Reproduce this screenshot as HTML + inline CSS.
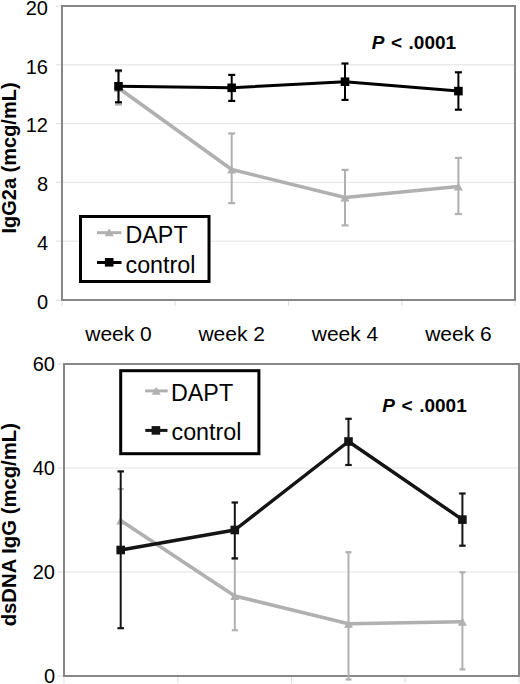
<!DOCTYPE html>
<html><head><meta charset="utf-8"><style>
html,body{margin:0;padding:0;background:#fff;overflow:hidden;}
svg{display:block;}
</style></head><body>
<svg width="520" height="684" viewBox="0 0 520 684">
<rect width="520" height="684" fill="#fff"/>
<line x1="62" y1="64.8" x2="515" y2="64.8" stroke="#e2e2e2" stroke-width="1"/>
<line x1="62" y1="123.6" x2="515" y2="123.6" stroke="#e2e2e2" stroke-width="1"/>
<line x1="62" y1="182.4" x2="515" y2="182.4" stroke="#e2e2e2" stroke-width="1"/>
<line x1="62" y1="241.2" x2="515" y2="241.2" stroke="#e2e2e2" stroke-width="1"/>
<line x1="56" y1="6.0" x2="62" y2="6.0" stroke="#dedede" stroke-width="1"/>
<line x1="56" y1="64.8" x2="62" y2="64.8" stroke="#dedede" stroke-width="1"/>
<line x1="56" y1="123.6" x2="62" y2="123.6" stroke="#dedede" stroke-width="1"/>
<line x1="56" y1="182.4" x2="62" y2="182.4" stroke="#dedede" stroke-width="1"/>
<line x1="56" y1="241.2" x2="62" y2="241.2" stroke="#dedede" stroke-width="1"/>
<line x1="56" y1="300.0" x2="62" y2="300.0" stroke="#dedede" stroke-width="1"/>
<line x1="62.0" y1="300" x2="62.0" y2="306" stroke="#dedede" stroke-width="1"/>
<line x1="175.2" y1="300" x2="175.2" y2="306" stroke="#dedede" stroke-width="1"/>
<line x1="288.5" y1="300" x2="288.5" y2="306" stroke="#dedede" stroke-width="1"/>
<line x1="401.8" y1="300" x2="401.8" y2="306" stroke="#dedede" stroke-width="1"/>
<line x1="515.0" y1="300" x2="515.0" y2="306" stroke="#dedede" stroke-width="1"/>
<rect x="62" y="6" width="453" height="294" fill="none" stroke="#868686" stroke-width="2"/>
<line x1="118.5" y1="71.4" x2="118.5" y2="104.6" stroke="#b0b0b0" stroke-width="2"/><line x1="115.0" y1="71.4" x2="122.0" y2="71.4" stroke="#b0b0b0" stroke-width="2.2"/><line x1="115.0" y1="104.6" x2="122.0" y2="104.6" stroke="#b0b0b0" stroke-width="2.2"/>
<line x1="231.7" y1="133.5" x2="231.7" y2="203.1" stroke="#b0b0b0" stroke-width="2"/><line x1="228.2" y1="133.5" x2="235.2" y2="133.5" stroke="#b0b0b0" stroke-width="2.2"/><line x1="228.2" y1="203.1" x2="235.2" y2="203.1" stroke="#b0b0b0" stroke-width="2.2"/>
<line x1="345" y1="169.9" x2="345" y2="225.4" stroke="#b0b0b0" stroke-width="2"/><line x1="341.5" y1="169.9" x2="348.5" y2="169.9" stroke="#b0b0b0" stroke-width="2.2"/><line x1="341.5" y1="225.4" x2="348.5" y2="225.4" stroke="#b0b0b0" stroke-width="2.2"/>
<line x1="458.4" y1="157.9" x2="458.4" y2="214" stroke="#b0b0b0" stroke-width="2"/><line x1="454.9" y1="157.9" x2="461.9" y2="157.9" stroke="#b0b0b0" stroke-width="2.2"/><line x1="454.9" y1="214" x2="461.9" y2="214" stroke="#b0b0b0" stroke-width="2.2"/>
<polyline points="118.5,88 231.7,169.5 345,197.5 458.4,186.5" fill="none" stroke="#b0b0b0" stroke-width="3.6" stroke-linejoin="round"/>
<path d="M114.0,92.0 L118.5,84.0 L123.0,92.0 Z" fill="#b0b0b0"/>
<path d="M227.2,173.5 L231.7,165.5 L236.2,173.5 Z" fill="#b0b0b0"/>
<path d="M340.5,201.5 L345.0,193.5 L349.5,201.5 Z" fill="#b0b0b0"/>
<path d="M453.9,190.5 L458.4,182.5 L462.9,190.5 Z" fill="#b0b0b0"/>
<line x1="118.5" y1="70.5" x2="118.5" y2="102.3" stroke="#000" stroke-width="2"/><line x1="115.0" y1="70.5" x2="122.0" y2="70.5" stroke="#000" stroke-width="2.2"/><line x1="115.0" y1="102.3" x2="122.0" y2="102.3" stroke="#000" stroke-width="2.2"/>
<line x1="231.7" y1="74.9" x2="231.7" y2="100.9" stroke="#000" stroke-width="2"/><line x1="228.2" y1="74.9" x2="235.2" y2="74.9" stroke="#000" stroke-width="2.2"/><line x1="228.2" y1="100.9" x2="235.2" y2="100.9" stroke="#000" stroke-width="2.2"/>
<line x1="345" y1="63.5" x2="345" y2="99.9" stroke="#000" stroke-width="2"/><line x1="341.5" y1="63.5" x2="348.5" y2="63.5" stroke="#000" stroke-width="2.2"/><line x1="341.5" y1="99.9" x2="348.5" y2="99.9" stroke="#000" stroke-width="2.2"/>
<line x1="458.4" y1="72.3" x2="458.4" y2="109.7" stroke="#000" stroke-width="2"/><line x1="454.9" y1="72.3" x2="461.9" y2="72.3" stroke="#000" stroke-width="2.2"/><line x1="454.9" y1="109.7" x2="461.9" y2="109.7" stroke="#000" stroke-width="2.2"/>
<polyline points="118.5,86.3 231.7,87.8 345,81.7 458.4,91.1" fill="none" stroke="#000" stroke-width="3" stroke-linejoin="round"/>
<rect x="114.2" y="82.0" width="8.6" height="8.6" fill="#000"/>
<rect x="227.4" y="83.5" width="8.6" height="8.6" fill="#000"/>
<rect x="340.7" y="77.4" width="8.6" height="8.6" fill="#000"/>
<rect x="454.1" y="86.8" width="8.6" height="8.6" fill="#000"/>
<rect x="80.5" y="216.5" width="128.5" height="65" fill="#fff" stroke="#000" stroke-width="3"/>
<line x1="97" y1="232.7" x2="121.3" y2="232.7" stroke="#b0b0b0" stroke-width="3"/>
<path d="M104.7,236.2 L109.2,228.2 L113.7,236.2 Z" fill="#b0b0b0"/>
<line x1="97" y1="262.5" x2="121.5" y2="262.5" stroke="#000" stroke-width="3"/>
<rect x="104.9" y="258.0" width="8.6" height="8.6" fill="#000"/>
<line x1="64" y1="468.0" x2="519" y2="468.0" stroke="#e2e2e2" stroke-width="1"/>
<line x1="64" y1="572.0" x2="519" y2="572.0" stroke="#e2e2e2" stroke-width="1"/>
<line x1="57.5" y1="364.0" x2="64" y2="364.0" stroke="#dedede" stroke-width="1"/>
<line x1="57.5" y1="468.0" x2="64" y2="468.0" stroke="#dedede" stroke-width="1"/>
<line x1="57.5" y1="572.0" x2="64" y2="572.0" stroke="#dedede" stroke-width="1"/>
<line x1="57.5" y1="676.0" x2="64" y2="676.0" stroke="#dedede" stroke-width="1"/>
<line x1="64.0" y1="676" x2="64.0" y2="683" stroke="#dedede" stroke-width="1"/>
<line x1="177.8" y1="676" x2="177.8" y2="683" stroke="#dedede" stroke-width="1"/>
<line x1="291.5" y1="676" x2="291.5" y2="683" stroke="#dedede" stroke-width="1"/>
<line x1="405.2" y1="676" x2="405.2" y2="683" stroke="#dedede" stroke-width="1"/>
<line x1="519.0" y1="676" x2="519.0" y2="683" stroke="#dedede" stroke-width="1"/>
<rect x="64" y="364" width="455" height="312" fill="none" stroke="#868686" stroke-width="2"/>
<line x1="120.7" y1="489" x2="120.7" y2="552" stroke="#b0b0b0" stroke-width="2"/><line x1="117.7" y1="489" x2="123.7" y2="489" stroke="#b0b0b0" stroke-width="2.2"/><line x1="117.7" y1="552" x2="123.7" y2="552" stroke="#b0b0b0" stroke-width="2.2"/>
<line x1="234.8" y1="558.5" x2="234.8" y2="630.2" stroke="#b0b0b0" stroke-width="2"/><line x1="231.8" y1="558.5" x2="237.8" y2="558.5" stroke="#b0b0b0" stroke-width="2.2"/><line x1="231.8" y1="630.2" x2="237.8" y2="630.2" stroke="#b0b0b0" stroke-width="2.2"/>
<line x1="348.5" y1="552.2" x2="348.5" y2="679.5" stroke="#b0b0b0" stroke-width="2"/><line x1="345.5" y1="552.2" x2="351.5" y2="552.2" stroke="#b0b0b0" stroke-width="2.2"/><line x1="345.5" y1="679.5" x2="351.5" y2="679.5" stroke="#b0b0b0" stroke-width="2.2"/>
<line x1="462.4" y1="572.3" x2="462.4" y2="669.4" stroke="#b0b0b0" stroke-width="2"/><line x1="459.4" y1="572.3" x2="465.4" y2="572.3" stroke="#b0b0b0" stroke-width="2.2"/><line x1="459.4" y1="669.4" x2="465.4" y2="669.4" stroke="#b0b0b0" stroke-width="2.2"/>
<polyline points="120.7,520.5 234.8,596 348.5,623.8 462.4,621.7" fill="none" stroke="#b0b0b0" stroke-width="3.6" stroke-linejoin="round"/>
<path d="M116.2,524.5 L120.7,516.5 L125.2,524.5 Z" fill="#b0b0b0"/>
<path d="M230.3,600.0 L234.8,592.0 L239.3,600.0 Z" fill="#b0b0b0"/>
<path d="M344.0,627.8 L348.5,619.8 L353.0,627.8 Z" fill="#b0b0b0"/>
<path d="M457.9,625.7 L462.4,617.7 L466.9,625.7 Z" fill="#b0b0b0"/>
<line x1="120.7" y1="471.4" x2="120.7" y2="628.2" stroke="#141414" stroke-width="2"/><line x1="117.45" y1="471.4" x2="123.95" y2="471.4" stroke="#141414" stroke-width="2.2"/><line x1="117.45" y1="628.2" x2="123.95" y2="628.2" stroke="#141414" stroke-width="2.2"/>
<line x1="234.8" y1="502.5" x2="234.8" y2="558.4" stroke="#141414" stroke-width="2"/><line x1="231.55" y1="502.5" x2="238.05" y2="502.5" stroke="#141414" stroke-width="2.2"/><line x1="231.55" y1="558.4" x2="238.05" y2="558.4" stroke="#141414" stroke-width="2.2"/>
<line x1="348.5" y1="418.8" x2="348.5" y2="465" stroke="#141414" stroke-width="2"/><line x1="345.25" y1="418.8" x2="351.75" y2="418.8" stroke="#141414" stroke-width="2.2"/><line x1="345.25" y1="465" x2="351.75" y2="465" stroke="#141414" stroke-width="2.2"/>
<line x1="462.4" y1="493.5" x2="462.4" y2="545.7" stroke="#141414" stroke-width="2"/><line x1="459.15" y1="493.5" x2="465.65" y2="493.5" stroke="#141414" stroke-width="2.2"/><line x1="459.15" y1="545.7" x2="465.65" y2="545.7" stroke="#141414" stroke-width="2.2"/>
<polyline points="120.7,550 234.8,530 348.5,441.5 462.4,519.6" fill="none" stroke="#141414" stroke-width="3.4" stroke-linejoin="round"/>
<rect x="116.4" y="545.7" width="8.6" height="8.6" fill="#141414"/>
<rect x="230.5" y="525.7" width="8.6" height="8.6" fill="#141414"/>
<rect x="344.2" y="437.2" width="8.6" height="8.6" fill="#141414"/>
<rect x="458.1" y="515.3" width="8.6" height="8.6" fill="#141414"/>
<rect x="120.7" y="370.7" width="138.2" height="83" fill="#fff" stroke="#000" stroke-width="3"/>
<line x1="145.2" y1="390.9" x2="167.7" y2="390.9" stroke="#b0b0b0" stroke-width="3"/>
<path d="M151.7,394.8 L156.2,386.8 L160.7,394.8 Z" fill="#b0b0b0"/>
<line x1="145.3" y1="430.4" x2="167.5" y2="430.4" stroke="#141414" stroke-width="3"/>
<rect x="151.6" y="426.1" width="8.6" height="8.6" fill="#141414"/>
<text x="48" y="14.7" font-family="Liberation Sans" font-size="20" text-anchor="end">20</text>
<text x="48" y="73.5" font-family="Liberation Sans" font-size="20" text-anchor="end">16</text>
<text x="48" y="132.3" font-family="Liberation Sans" font-size="20" text-anchor="end">12</text>
<text x="48" y="191.1" font-family="Liberation Sans" font-size="20" text-anchor="end">8</text>
<text x="48" y="249.9" font-family="Liberation Sans" font-size="20" text-anchor="end">4</text>
<text x="48" y="308.7" font-family="Liberation Sans" font-size="20" text-anchor="end">0</text>
<text x="118.5" y="340.5" font-family="Liberation Sans" font-size="21" text-anchor="middle">week 0</text>
<text x="231.7" y="340.5" font-family="Liberation Sans" font-size="21" text-anchor="middle">week 2</text>
<text x="345" y="340.5" font-family="Liberation Sans" font-size="21" text-anchor="middle">week 4</text>
<text x="458.4" y="340.5" font-family="Liberation Sans" font-size="21" text-anchor="middle">week 6</text>
<text x="55" y="371.3" font-family="Liberation Sans" font-size="20" text-anchor="end">60</text>
<text x="55" y="475.3" font-family="Liberation Sans" font-size="20" text-anchor="end">40</text>
<text x="55" y="579.3" font-family="Liberation Sans" font-size="20" text-anchor="end">20</text>
<text x="55" y="683.3" font-family="Liberation Sans" font-size="20" text-anchor="end">0</text>
<text x="125.5" y="242.8" font-family="Liberation Sans" font-size="23.3">DAPT</text>
<text x="125.5" y="273" font-family="Liberation Sans" font-size="23.3">control</text>
<text x="171" y="401.2" font-family="Liberation Sans" font-size="23.3">DAPT</text>
<text x="171.5" y="440" font-family="Liberation Sans" font-size="23.3">control</text>
<text y="48.5" font-family="Liberation Sans" font-size="19" font-weight="bold"><tspan x="371.7" font-style="italic">P</tspan><tspan x="391.0">&lt;</tspan><tspan x="408.59999999999997">.0001</tspan></text>
<text y="412.2" font-family="Liberation Sans" font-size="19" font-weight="bold"><tspan x="382.3" font-style="italic">P</tspan><tspan x="401.6">&lt;</tspan><tspan x="419.2">.0001</tspan></text>
<text transform="translate(15.5,158) rotate(-90)" font-family="Liberation Sans" font-size="20" font-weight="bold" text-anchor="middle">IgG2a (mcg/mL)</text>
<text transform="translate(16.3,524.7) rotate(-90)" font-family="Liberation Sans" font-size="20.3" font-weight="bold" text-anchor="middle">dsDNA IgG (mcg/mL)</text>
</svg>
</body></html>
